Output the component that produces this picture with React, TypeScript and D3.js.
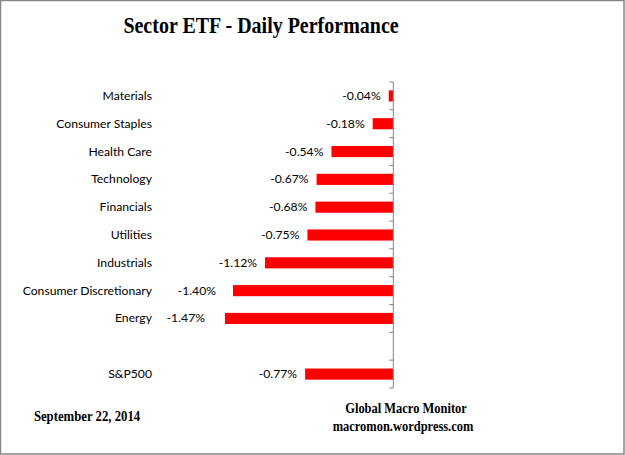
import React from "react";
import * as d3 from "d3";

const categories = [
  "Materials",
  "Consumer Staples",
  "Health Care",
  "Technology",
  "Financials",
  "Utilities",
  "Industrials",
  "Consumer Discretionary",
  "Energy",
  "",
  "S&P500",
];
const values: (number | null)[] = [-0.04, -0.18, -0.54, -0.67, -0.68, -0.75, -1.12, -1.4, -1.47, null, -0.77];
const valueLabels = ["-0.04%", "-0.18%", "-0.54%", "-0.67%", "-0.68%", "-0.75%", "-1.12%", "-1.40%", "-1.47%", "", "-0.77%"];

const title = "Sector ETF - Daily Performance";
const dateText = "September 22, 2014";
const credit1 = "Global Macro Monitor";
const credit2 = "macromon.wordpress.com";

const W = 625;
const H = 455;
const axisX = 393.3;
const top = 82;
const bottom = 388;

function SerifText(props: { x: number; y: number; size: number; sx: number; children: string }) {
  return (
    <g transform={`translate(${props.x},${props.y}) scale(${props.sx},1)`}>
      <text x={0} y={0} textAnchor="middle" fontFamily="'Liberation Serif', 'Times New Roman', serif" fontWeight="bold" fontSize={props.size} fill="#000">
        {props.children}
      </text>
    </g>
  );
}

export default function App() {
  const keys = categories.map((c, i) => `${i}`);
  const x = d3.scaleLinear().domain([-1.6, 0]).range([axisX - 1.6 * 114.5, axisX]);
  const y = d3.scaleBand<string>().domain(keys).range([top, bottom]).paddingInner(0.6).paddingOuter(0.3);
  const step = y.step();
  const ticks = d3.range(keys.length + 1).map((i) => top + i * step);
  const labelFont = "Lato, 'Open Sans', sans-serif";
  // labels that the original nudged further left
  const extraNudge: Record<string, number> = { "Consumer Discretionary": 9, Energy: 12 };

  return (
    <svg width={W} height={H} style={{ position: "absolute", left: 0, top: 0, background: "#fff" }}>
      <rect x={0.5} y={0.5} width={W - 1.5} height={H - 1.5} fill="#fff" stroke="#868686" strokeWidth={1.5} />
      <SerifText x={261} y={32.7} size={24} sx={0.833}>{title}</SerifText>
      {categories.map((c, i) => {
        const v = values[i];
        const yc = (y(keys[i]) as number) + y.bandwidth() / 2;
        return (
          <g key={i}>
            {c && (
              <text x={152} y={yc + 4} textAnchor="end" fontFamily={labelFont} fontSize={12.2} fill="#000">
                {c}
              </text>
            )}
            {v !== null && (
              <>
                <rect x={x(v)} y={y(keys[i])} width={x(0) - x(v)} height={y.bandwidth()} fill="#ff0000" />
                <text x={x(v) - 8 - (extraNudge[c] || 0)} y={yc + 4} textAnchor="end" fontFamily={labelFont} fontSize={12.2} fill="#000">
                  {valueLabels[i]}
                </text>
              </>
            )}
          </g>
        );
      })}
      <line x1={axisX} x2={axisX} y1={top} y2={bottom} stroke="#868686" strokeWidth={1} />
      {ticks.map((t, i) => (
        <line key={i} x1={axisX - 4} x2={axisX} y1={t} y2={t} stroke="#868686" strokeWidth={1} />
      ))}
      <SerifText x={87} y={421} size={15} sx={0.85}>{dateText}</SerifText>
      <SerifText x={406} y={413.3} size={14} sx={0.89}>{credit1}</SerifText>
      <SerifText x={403} y={430.5} size={14} sx={0.89}>{credit2}</SerifText>
    </svg>
  );
}
